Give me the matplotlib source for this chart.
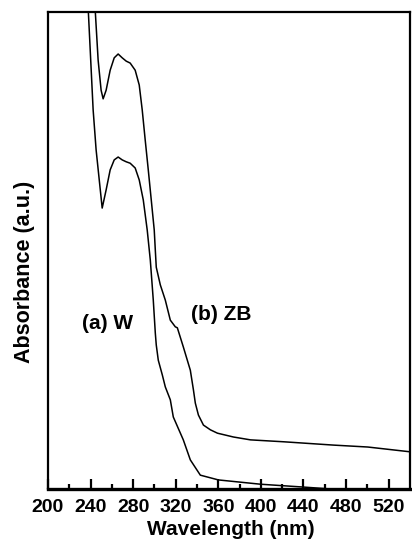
import numpy as np
import matplotlib.pyplot as plt

plt.rcParams['font.family'] = ['Liberation Sans', 'DejaVu Sans']
plt.rcParams['font.weight'] = 'bold'

# (a) W sample - wavelength (nm) and absorbance (a.u.)
wl_w = [237.7, 242.4, 245.2, 250.9, 254.6, 258.4, 262.2, 265.9, 269.7, 273.5,
        277.2, 281.9, 285.7, 289.5, 293.2, 296.1, 298.9, 300.8, 301.7, 303.6,
        307.4, 310.2, 314.9, 317.7, 327.1, 333.7, 343.1, 360.1, 399.7, 440.2,
        465.6, 540.0]
abs_w = [1.01, 0.795, 0.711, 0.589, 0.627, 0.669, 0.690, 0.696, 0.690, 0.686,
         0.683, 0.673, 0.648, 0.606, 0.543, 0.480, 0.396, 0.327, 0.302, 0.270,
         0.239, 0.214, 0.187, 0.151, 0.103, 0.061, 0.029, 0.019, 0.010, 0.004,
         0.0, -0.004]

# (b) ZB sample
wl_zb = [243.8, 247.1, 249.9, 251.8, 254.6, 258.4, 262.2, 265.9, 269.7, 273.5,
         277.2, 281.9, 285.7, 288.5, 291.3, 294.2, 297.0, 299.8, 300.8, 301.7,
         305.5, 310.2, 314.9, 319.6, 321.5, 327.1, 333.7, 336.6, 338.4, 341.3,
         346.0, 352.6, 359.2, 374.2, 390.2, 421.3, 468.4, 500.4, 540.0]
abs_zb = [1.025, 0.899, 0.836, 0.818, 0.836, 0.878, 0.904, 0.912, 0.904, 0.897,
          0.893, 0.878, 0.847, 0.795, 0.732, 0.669, 0.606, 0.543, 0.501, 0.465,
          0.428, 0.396, 0.354, 0.340, 0.338, 0.298, 0.249, 0.208, 0.180, 0.155,
          0.134, 0.124, 0.117, 0.109, 0.103, 0.099, 0.092, 0.088, 0.078]

xticks = np.arange(200, 521, 40)

fig = plt.figure(figsize=(4.12, 5.42), dpi=100)
ax = fig.add_axes([0.1165, 0.0978, 0.8785, 0.880])

ax.plot(wl_w, abs_w, color='black', lw=1.1)
ax.plot(wl_zb, abs_zb, color='black', lw=1.1)

ax.text(256, 0.346, '(a) W', fontsize=15, fontweight='bold', ha='center', va='center')
ax.text(363, 0.365, '(b) ZB', fontsize=15, fontweight='bold', ha='center', va='center')

ax.set_xlim(200, 540)
ax.set_ylim(0, 1)
ax.set_xticks(xticks)
ax.set_xticks(np.arange(220, 540, 40), minor=True)
ax.tick_params(axis='x', which='major', direction='in', length=7.5, width=1.6,
               labelsize=14, pad=7)
ax.tick_params(axis='x', which='minor', direction='in', length=3.5, width=1.6)
for lab in ax.get_xticklabels():
    lab.set_fontweight('bold')
ax.set_yticks([])

for side in ['left', 'right', 'top']:
    ax.spines[side].set_linewidth(1.6)
ax.spines['bottom'].set_linewidth(2.4)

ax.set_xlabel('Wavelength (nm)', fontsize=15, fontweight='bold')
ax.xaxis.set_label_coords(0.504, -0.066)
ax.set_ylabel('Absorbance (a.u.)', fontsize=15.5, fontweight='bold')
ax.yaxis.set_label_coords(-0.037, 0.455)

fig.savefig('out.png', dpi=100)
